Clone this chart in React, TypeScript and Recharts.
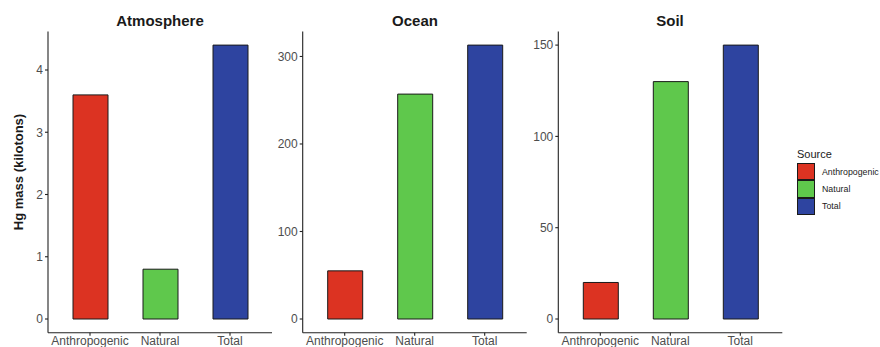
import React from 'react';
import { BarChart, Bar, XAxis, YAxis, Cell } from 'recharts';

const categories = ['Anthropogenic', 'Natural', 'Total'];
const atmosphereValues = [3.6, 0.8, 4.4];
const oceanValues = [55, 257, 313];
const soilValues = [20, 130, 150];
const sourceColors = ['#dc3322', '#5fc84c', '#2e44a0'];
const atmosphereTicks = [0, 1, 2, 3, 4];
const oceanTicks = [0, 100, 200, 300];
const soilTicks = [0, 50, 100, 150];

const FONT = '"Liberation Sans", Arial, sans-serif';
const H = 347;
const PLOT_TOP = 31.4;
const XAXIS_H = 14.3;

const toRows = (vals: number[]) => categories.map((c, i) => ({ name: c, value: vals[i] }));

const tickStyle = { fontSize: 12, fill: '#4d4d4d', fontFamily: FONT };

type PanelProps = {
  left: number;
  width: number;
  yAxisWidth: number;
  rightMargin: number;
  values: number[];
  ticks: number[];
  domain: [number, number];
  yLabel?: boolean;
};

const SourceLegend = () => (
  <div style={{ position: 'absolute', left: 797, top: 146, fontFamily: FONT, color: '#1a1a1a' }}>
    <div style={{ fontSize: 11, height: 17, lineHeight: '16px' }}>Source</div>
    {categories.map((c, i) => (
      <div key={c} style={{ display: 'flex', alignItems: 'center', height: 17.3 }}>
        <div
          style={{
            width: 18,
            height: 17.3,
            background: sourceColors[i],
            border: '1px solid #1a1a1a',
            boxSizing: 'border-box',
          }}
        />
        <span style={{ fontSize: 8.8, marginLeft: 7, color: '#1a1a1a' }}>{c}</span>
      </div>
    ))}
  </div>
);

const Panel = ({ left, width, yAxisWidth, rightMargin, values, ticks, domain, yLabel }: PanelProps) => (
  <div style={{ position: 'absolute', left, top: 0 }}>
    <BarChart
      width={width}
      height={H}
      data={toRows(values)}
      margin={{ top: PLOT_TOP, right: rightMargin, bottom: 0, left: 0 }}
    >
      <XAxis
        dataKey="name"
        height={XAXIS_H}
        padding={{ left: 7, right: 7 }}
        tick={tickStyle}
        tickSize={3}
        tickMargin={1}
        interval={0}
        axisLine={{ stroke: '#222', strokeWidth: 1.1 }}
        tickLine={{ stroke: '#222', strokeWidth: 1.1 }}
      />
      <YAxis
        width={yAxisWidth}
        type="number"
        domain={domain}
        allowDataOverflow
        ticks={ticks}
        tick={tickStyle}
        tickSize={3}
        tickMargin={2}
        axisLine={{ stroke: '#222', strokeWidth: 1.1 }}
        tickLine={{ stroke: '#222', strokeWidth: 1.1 }}
        label={
          yLabel
            ? {
                content: () => (
                  <text
                    x={18}
                    y={172}
                    transform="rotate(-90 18 172)"
                    textAnchor="middle"
                    dominantBaseline="central"
                    style={{ fontSize: 13, fontWeight: 'bold', fontFamily: FONT, fill: '#1a1a1a' }}
                  >
                    Hg mass (kilotons)
                  </text>
                ),
              }
            : undefined
        }
      />
      <Bar dataKey="value" barSize={35} stroke="#1a1a1a" strokeWidth={1} isAnimationActive={false}>
        {values.map((_, i) => (
          <Cell key={i} fill={sourceColors[i]} />
        ))}
      </Bar>
    </BarChart>
  </div>
);

const titles = [
  { text: 'Atmosphere', x: 160 },
  { text: 'Ocean', x: 415 },
  { text: 'Soil', x: 670 },
];

export default function App() {
  return (
    <div style={{ position: 'absolute', left: 0, top: 0, width: 880, height: H, background: '#fff', overflow: 'hidden' }}>
      <Panel
        left={0}
        width={280}
        yAxisWidth={48}
        rightMargin={8}
        values={atmosphereValues}
        ticks={atmosphereTicks}
        domain={[-0.22, 4.62]}
        yLabel
      />
      <Panel
        left={270}
        width={260}
        yAxisWidth={32.7}
        rightMargin={3.3}
        values={oceanValues}
        ticks={oceanTicks}
        domain={[-15.65, 328.65]}
      />
      <Panel
        left={520}
        width={270}
        yAxisWidth={38.3}
        rightMargin={7.7}
        values={soilValues}
        ticks={soilTicks}
        domain={[-7.5, 157.5]}
      />
      <SourceLegend />
      <svg width={880} height={40} style={{ position: 'absolute', left: 0, top: 0, pointerEvents: 'none' }}>
        {titles.map((t) => (
          <text
            key={t.text}
            x={t.x}
            y={25.7}
            textAnchor="middle"
            style={{ fontSize: 15, fontWeight: 'bold', fontFamily: FONT, fill: '#1a1a1a' }}
          >
            {t.text}
          </text>
        ))}
      </svg>
    </div>
  );
}
